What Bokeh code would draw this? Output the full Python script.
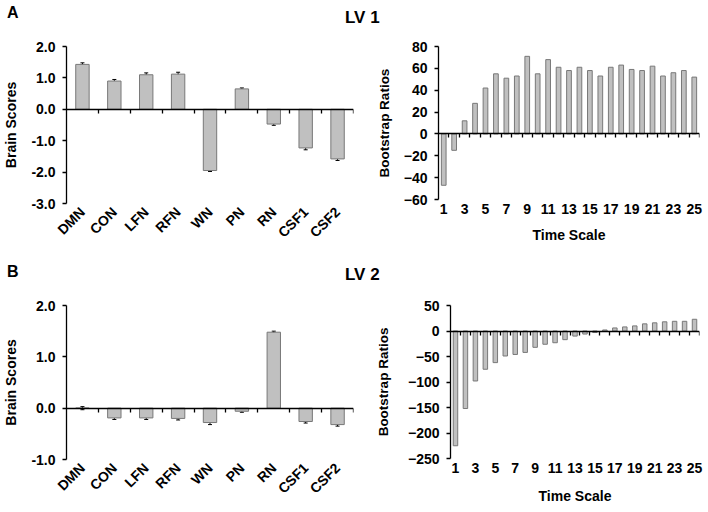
import numpy as np
from bokeh.plotting import figure
from bokeh.models import (Range1d, LinearAxis, FixedTicker,
                          PrintfTickFormatter, Whisker, ColumnDataSource, Div, TeeHead)
from bokeh.layouts import column, row
from bokeh.embed import file_html
from bokeh.resources import INLINE

# ---------------- data ----------------
networks = ["DMN", "CON", "LFN", "RFN", "WN", "PN", "RN", "CSF1", "CSF2"]
lv1_scores = [1.43, 0.90, 1.10, 1.12, -1.95, 0.65, -0.47, -1.23, -1.58]
lv1_errors = [0.05, 0.05, 0.06, 0.06, 0.03, 0.03, 0.04, 0.06, 0.05]
lv2_scores = [0.00, -0.19, -0.19, -0.20, -0.28, -0.06, 1.48, -0.26, -0.32]
lv2_errors = [0.03, 0.03, 0.03, 0.03, 0.04, 0.02, 0.02, 0.03, 0.03]

time_scales = list(range(1, 26))
lv1_boot = [-47, -15, 12, 28, 42, 55, 51, 53, 71, 55, 68, 61, 58, 61, 58, 53, 61, 63, 59, 58, 62, 53, 56, 58, 52]
lv2_boot = [-225, -152, -98, -75, -62, -49, -46, -42, -32, -26, -23, -17, -10, -6, -3, 2, 6, 8, 10, 14, 16, 18, 19, 19, 23]

lv1_brain_ticks = [-3, -2, -1, 0, 1, 2]
lv2_brain_ticks = [-1, 0, 1, 2]
lv1_boot_ticks = [-60, -40, -20, 0, 20, 40, 60, 80]
lv2_boot_ticks = [-250, -200, -150, -100, -50, 0, 50]
time_label_ticks = [t for t in time_scales if t % 2 == 1]

FONT = "Liberation Sans"
BAR_FILL = "#c0c0c0"
BAR_LINE = "#787878"


def style_yaxis(ax, label, standoff, label_size="14px"):
    ax.axis_label = label
    ax.axis_label_text_font = FONT
    ax.axis_label_text_font_style = "bold"
    ax.axis_label_text_font_size = label_size
    ax.axis_label_text_color = "black"
    ax.axis_label_standoff = standoff
    ax.major_label_text_font = FONT
    ax.major_label_text_font_style = "bold"
    ax.major_label_text_font_size = "14px"
    ax.major_label_text_color = "black"
    ax.major_label_standoff = 7
    ax.axis_line_color = "black"
    ax.axis_line_width = 1.3
    ax.major_tick_line_color = "black"
    ax.major_tick_line_width = 1.3
    ax.major_tick_in = 0
    ax.major_tick_out = 4
    ax.minor_tick_line_color = None


def label_axis(ticks, standoff, overrides=None):
    ax = LinearAxis(ticker=FixedTicker(ticks=ticks))
    if overrides:
        ax.major_label_overrides = overrides
    ax.axis_line_color = None
    ax.major_tick_line_color = None
    ax.minor_tick_line_color = None
    ax.major_tick_in = 0
    ax.major_tick_out = 0
    ax.major_label_standoff = standoff
    ax.major_label_text_font = FONT
    ax.major_label_text_font_style = "bold"
    ax.major_label_text_font_size = "14px"
    ax.major_label_text_color = "black"
    return ax


def zero_axis(boundaries):
    # placed in the "above" panel but drawn at y = 0; ticks point down
    ax = LinearAxis(fixed_location=0, ticker=FixedTicker(ticks=boundaries),
                    major_label_overrides={b: "" for b in boundaries})
    ax.axis_line_color = "black"
    ax.axis_line_width = 1.3
    ax.major_tick_line_color = "black"
    ax.major_tick_line_width = 1.3
    ax.major_tick_in = 4
    ax.major_tick_out = 0
    ax.minor_tick_line_color = None
    ax.major_label_text_font_size = "1px"
    ax.major_label_standoff = 0
    return ax


def brain_panel(scores, errors, ylo, yhi, yticks, fh, top, bottom):
    n = len(networks)
    xs = [i + 1 for i in range(n)]
    p = figure(width=354, frame_height=fh, x_range=Range1d(0.5, n + 0.5), y_range=Range1d(ylo, yhi),
               x_axis_type=None, y_axis_type=None, output_backend="svg", toolbar_location=None,
               min_border_left=64, min_border_right=1, min_border_top=top, min_border_bottom=bottom)
    p.outline_line_color = None
    p.grid.visible = False

    src = ColumnDataSource(dict(x=xs, top=scores,
                                upper=[s + e for s, e in zip(scores, errors)],
                                lower=[s - e for s, e in zip(scores, errors)]))
    p.vbar(x="x", top="top", bottom=0, width=0.42, source=src,
           fill_color=BAR_FILL, line_color=BAR_LINE, line_width=1)
    p.add_layout(Whisker(base="x", upper="upper", lower="lower", source=src,
                         line_color="black", line_width=1,
                         upper_head=TeeHead(size=4, line_color="black", line_width=1),
                         lower_head=TeeHead(size=4, line_color="black", line_width=1)))

    yax = LinearAxis(ticker=FixedTicker(ticks=yticks), formatter=PrintfTickFormatter(format="%.1f"))
    style_yaxis(yax, "Brain Scores", 9)
    p.add_layout(yax, "left")

    lab = label_axis(xs, 6, {x: name for x, name in zip(xs, networks)})
    lab.major_label_orientation = np.pi / 4
    p.add_layout(lab, "below")

    p.add_layout(zero_axis([x + 0.5 for x in xs]), "above")
    return p


def boot_panel(vals, ylo, yhi, yticks, h, top, bottom, left, ylab_standoff, xlab_standoff):
    n = len(time_scales)
    p = figure(width=354, height=h, x_range=Range1d(0.5, n + 0.5), y_range=Range1d(ylo, yhi),
               x_axis_type=None, y_axis_type=None, output_backend="svg", toolbar_location=None,
               min_border_left=left, min_border_right=9, min_border_top=top, min_border_bottom=bottom)
    p.outline_line_color = None
    p.grid.visible = False

    p.vbar(x=time_scales, top=vals, bottom=0, width=0.45,
           fill_color=BAR_FILL, line_color=BAR_LINE, line_width=1)

    yax = LinearAxis(ticker=FixedTicker(ticks=yticks))
    style_yaxis(yax, "Bootstrap Ratios", ylab_standoff, "13.5px")
    p.add_layout(yax, "left")

    lab = label_axis(time_label_ticks, 4)
    lab.axis_label = "Time Scale"
    lab.axis_label_text_font = FONT
    lab.axis_label_text_font_style = "bold"
    lab.axis_label_text_font_size = "14px"
    lab.axis_label_text_color = "black"
    lab.axis_label_standoff = xlab_standoff
    p.add_layout(lab, "below")

    p.add_layout(zero_axis([t + 0.5 for t in time_scales]), "above")
    return p


def header(letter, title, h, letter_top, title_top, title_left):
    html = (f'<div style="position:relative;width:708px;height:{h}px;font-family:\'{FONT}\';'
            f'font-weight:bold;color:black;line-height:1;">'
            f'<span style="position:absolute;left:7px;top:{letter_top}px;font-size:16px;">{letter}</span>'
            f'<span style="position:absolute;left:{title_left}px;top:{title_top}px;font-size:17px;">{title}</span>'
            f'</div>')
    return Div(text=html, width=708, height=h, margin=0)


p1 = brain_panel(lv1_scores, lv1_errors, -3, 2, lv1_brain_ticks, 157, 14, 59)
p2 = boot_panel(lv1_boot, -60, 80, lv1_boot_ticks, 230, 14, 63, 84, 9, 10)
p3 = brain_panel(lv2_scores, lv2_errors, -1, 2, lv2_brain_ticks, 154, 19, 48)
p4 = boot_panel(lv2_boot, -250, 50, lv2_boot_ticks, 224, 19, 52, 96, 14, 12)

h1 = header("A", "LV 1", 32, 5, 9, 345)
h2 = header("B", "LV 2", 24, 2, 4, 345)

layout = column(h1, row(p1, p2, spacing=0), h2, row(p3, p4, spacing=0), spacing=0)

open("out.html", "w").write(file_html(layout, INLINE))
